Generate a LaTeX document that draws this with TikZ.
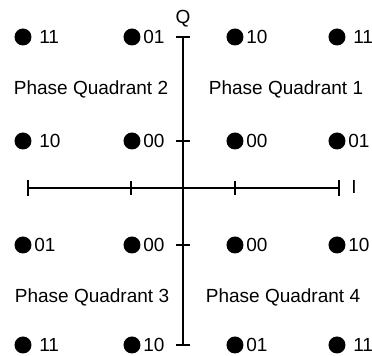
\documentclass[tikz,border=0pt]{standalone}
\usepackage{fontspec}
\setmainfont{Liberation Sans}
\usepackage{tikz}

\begin{document}
\begin{tikzpicture}[x=0.5pt,y=-0.5pt]
      \tikzstyle{point}=[circle, fill=black, inner sep=0pt, minimum size=8.5pt]
      \tikzstyle{bits}=[font=\fontsize{9.5}{11}\selectfont, inner sep=0.5pt, anchor=west]
      \tikzstyle{quadrant}=[font=\fontsize{9.5}{11}\selectfont]
      \tikzstyle{axis}=[line width=0.9pt]

      \useasboundingbox (0,0) rectangle (372,356);

      % axes
      \coordinate (Qtop) at (183,37);
      \coordinate (Qbot) at (183,345);
      \coordinate (Ileft) at (28,188);
      \coordinate (Iright) at (339,188);
      \draw[axis] (Qtop)--(Qbot);
      \draw[axis] (Ileft)--(Iright);
      \draw[axis] (176,37)--(190,37);
      \draw[axis] (176,141)--(190,141);
      \draw[axis] (176,245)--(190,245);
      \draw[axis] (176,345)--(190,345);
      \draw[axis] (28,180)--(28,196);
      \draw[axis] (131,181)--(131,195);
      \draw[axis] (235,181)--(235,195);
      \draw[axis] (339,180)--(339,196);
      \node[quadrant] (Q) at (183,19) {Q};
      \node[quadrant] (I) at (354,187) {I};

      % row 1
      \node[point] (p11) at (23,37) {};
      \node[bits] at ([xshift=3pt]p11.east) {11};
      \node[point] (p12) at (132,37) {};
      \node[bits] at ([xshift=0.5pt]p12.east) {01};
      \node[point] (p13) at (235,37) {};
      \node[bits] at ([xshift=0.5pt]p13.east) {10};
      \node[point] (p14) at (337,37) {};
      \node[bits] at ([xshift=3pt]p14.east) {11};

      % row 2
      \node[point] (p21) at (23,141) {};
      \node[bits] at ([xshift=3pt]p21.east) {10};
      \node[point] (p22) at (132,141) {};
      \node[bits] at ([xshift=0.5pt]p22.east) {00};
      \node[point] (p23) at (235,141) {};
      \node[bits] at ([xshift=0.5pt]p23.east) {00};
      \node[point] (p24) at (337,141) {};
      \node[bits] at ([xshift=0.5pt]p24.east) {01};

      % row 3
      \node[point] (p31) at (23,245) {};
      \node[bits] at ([xshift=0.5pt]p31.east) {01};
      \node[point] (p32) at (132,245) {};
      \node[bits] at ([xshift=0.5pt]p32.east) {00};
      \node[point] (p33) at (235,245) {};
      \node[bits] at ([xshift=0.5pt]p33.east) {00};
      \node[point] (p34) at (337,245) {};
      \node[bits] at ([xshift=0.5pt]p34.east) {10};

      % row 4
      \node[point] (p41) at (23,345) {};
      \node[bits] at ([xshift=3pt]p41.east) {11};
      \node[point] (p42) at (132,345) {};
      \node[bits] at ([xshift=0.5pt]p42.east) {10};
      \node[point] (p43) at (235,345) {};
      \node[bits] at ([xshift=0.5pt]p43.east) {01};
      \node[point] (p44) at (337,345) {};
      \node[bits] at ([xshift=3pt]p44.east) {11};

      % quadrants
      \node[quadrant] (Quad2) at (91,89) {Phase Quadrant 2};
      \node[quadrant] (Quad1) at (286,89) {Phase Quadrant 1};
      \node[quadrant] (Quad3) at (92,297) {Phase Quadrant 3};
      \node[quadrant] (Quad4) at (283,297) {Phase Quadrant 4};

    \end{tikzpicture}
\end{document}
